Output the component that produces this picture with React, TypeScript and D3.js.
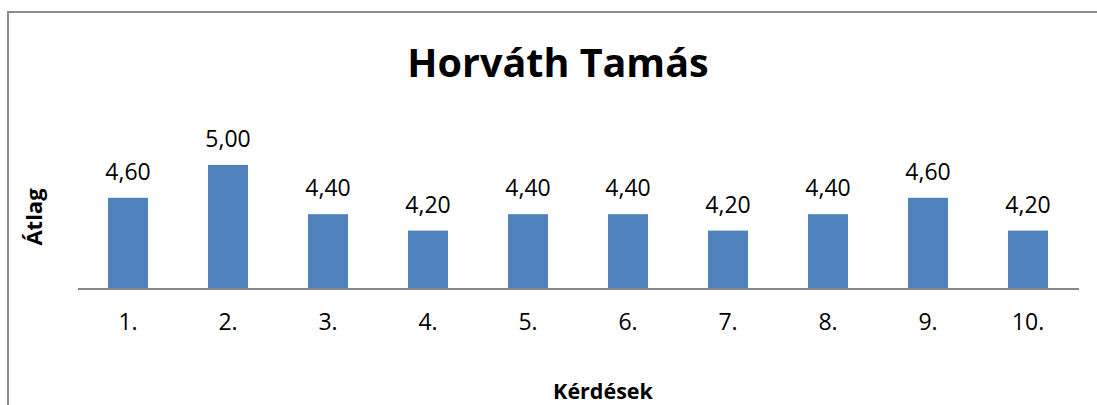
import React from "react";
import * as d3 from "d3";

const categories: string[] = ["1.", "2.", "3.", "4.", "5.", "6.", "7.", "8.", "9.", "10."];
const values: number[] = [4.6, 5.0, 4.4, 4.2, 4.4, 4.4, 4.2, 4.4, 4.6, 4.2];
const chartTitle = "Horváth Tamás";
const xTitle = "Kérdések";
const yTitle = "Átlag";
const yDomain: [number, number] = [3.5, 5.5];

const W = 1097;
const H = 405;
const plotLeft = 78;
const plotRight = 1078;
const plotBottom = 288;
const plotTop = 124;
const barColor = "#4F81BD";
const font = "'Open Sans', 'Liberation Sans', sans-serif";

const fmt = (v: number) => v.toFixed(2).replace(".", ",");

export default function App() {
  const x = d3
    .scaleBand<string>()
    .domain(categories)
    .range([plotLeft, plotRight])
    .paddingInner(0.6)
    .paddingOuter(0.3);
  const y = d3.scaleLinear().domain(yDomain).range([plotBottom, plotTop]);

  return (
    <svg
      width={W}
      height={H}
      style={{ position: "absolute", left: 0, top: 0, display: "block", background: "#fff" }}
    >
      <rect x={8} y={12} width={1100} height={420} fill="#fff" stroke="#8c8c8c" strokeWidth={2} />
      <text
        x={558}
        y={77}
        textAnchor="middle"
        fontFamily={font}
        fontWeight={700}
        fontSize={39.5}
        fill="#000"
      >
        {chartTitle}
      </text>
      {categories.map((c, i) => {
        const v = values[i];
        const bx = x(c) as number;
        return (
          <g key={c}>
            <rect x={bx} y={y(v)} width={x.bandwidth()} height={plotBottom - y(v)} fill={barColor} />
            <text
              x={bx + x.bandwidth() / 2}
              y={y(v) - 18}
              textAnchor="middle"
              fontFamily={font}
              fontSize={23}
              fill="#000"
            >
              {fmt(v)}
            </text>
            <text
              x={bx + x.bandwidth() / 2}
              y={330}
              textAnchor="middle"
              fontFamily={font}
              fontSize={23}
              fill="#000"
            >
              {c}
            </text>
          </g>
        );
      })}
      <line x1={plotLeft} x2={plotRight + 1} y1={289} y2={289} stroke="#868686" strokeWidth={2} />
      <text
        x={603}
        y={399}
        textAnchor="middle"
        fontFamily={font}
        fontWeight={700}
        fontSize={21.5}
        fill="#000"
      >
        {xTitle}
      </text>
      <text
        transform={`translate(42,217) rotate(-90)`}
        textAnchor="middle"
        fontFamily={font}
        fontWeight={700}
        fontSize={22}
        fill="#000"
      >
        {yTitle}
      </text>
    </svg>
  );
}
